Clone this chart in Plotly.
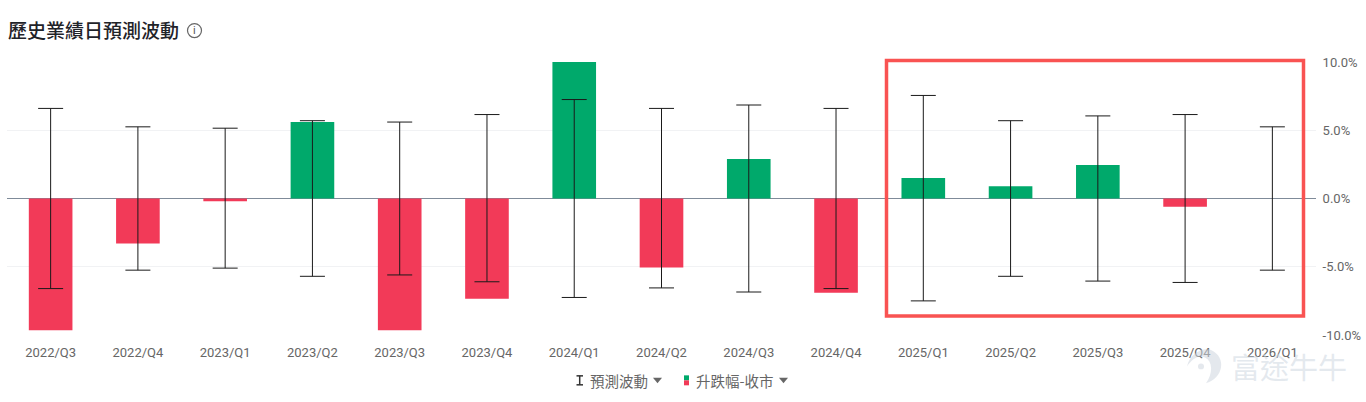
import plotly.graph_objects as go

quarters = ["2022/Q3", "2022/Q4", "2023/Q1", "2023/Q2", "2023/Q3", "2023/Q4", "2024/Q1", "2024/Q2",
            "2024/Q3", "2024/Q4", "2025/Q1", "2025/Q2", "2025/Q3", "2025/Q4", "2026/Q1"]
close_change = [-9.65, -3.3, -0.2, 5.6, -9.65, -7.35, 10.0, -5.05, 2.9, -6.9, 1.5, 0.9, 2.45, -0.6, None]
implied_up = [6.6, 5.25, 5.15, 5.7, 5.6, 6.15, 7.25, 6.6, 6.85, 6.6, 7.55, 5.7, 6.05, 6.15, 5.25]
implied_down = [6.6, 5.25, 5.1, 5.7, 5.6, 6.1, 7.25, 6.55, 6.85, 6.6, 7.5, 5.7, 6.05, 6.15, 5.25]
y_ticks = [-10, -5, 0, 5, 10]
y_tick_labels = ["-10.0%", "-5.0%", "0.0%", "5.0%", "10.0%"]

GREEN = "#00a96b"
RED = "#f23a58"
W, H = 1366, 402
LEFT, RIGHT, TOP, BOTTOM = 7, 1316, 61.5, 335.5
FONT = "Roboto, 'Noto Sans CJK TC', sans-serif"
CJK = "'Noto Sans CJK TC', sans-serif"
MARK = "rgba(205,214,223,0.55)"


# paper coordinates run across the plot area, so page pixels are converted from its edges
def px(x):
    return (x - LEFT) / (RIGHT - LEFT)


def py(y):
    return (BOTTOM - y) / (BOTTOM - TOP)


def label(text, x, y, size=12, color="#666666", anchor="left", family=FONT, weight="normal"):
    return dict(text=text, x=px(x), y=py(y), xref="paper", yref="paper", xanchor=anchor, yanchor="middle",
                showarrow=False, borderpad=0, font=dict(size=size, color=color, family=family, weight=weight))


def box(x0, y0, x1, y1, **kw):
    return dict(type="rect", xref="paper", yref="paper", x0=px(x0), x1=px(x1), y0=py(y1), y1=py(y0), **kw)


def segment(x0, y0, x1, y1, color="#333333", width=1.5):
    return dict(type="line", xref="paper", yref="paper", x0=px(x0), x1=px(x1), y0=py(y0), y1=py(y1),
                line=dict(color=color, width=width))


def triangle(x, y):
    return dict(type="path", xref="paper", yref="paper",
                path=f"M {px(x)} {py(y)} L {px(x + 9)} {py(y)} L {px(x + 4.5)} {py(y + 5.5)} Z",
                fillcolor="#666666", line_width=0)


fig = go.Figure()
fig.add_bar(
    x=quarters, y=close_change, width=0.5,
    marker=dict(color=[GREEN if (v or 0) >= 0 else RED for v in close_change], line_width=0),
    showlegend=False, hoverinfo="x+y",
)
fig.add_scatter(
    x=quarters, y=[0] * len(quarters), mode="markers", marker=dict(size=1, opacity=0),
    error_y=dict(type="data", symmetric=False, array=implied_up, arrayminus=implied_down,
                 color="#1a1a1a", thickness=1, width=12.5),
    showlegend=False, hoverinfo="skip",
)

annotations = [
    label("歷史業績日預測波動", 7, 29, size=19, color="#1f2329", family=CJK, weight=500),
    label("i", 194.5, 30, size=11, color="#555555", anchor="center"),
    label("預測波動", 588.5, 381.5, size=14.5, color="#666666", family=CJK),
    label("升跌幅-收市", 694.5, 381.5, size=14.5, color="#666666", family=CJK),
    label("富途牛牛", 1230, 367, size=29, color=MARK, family=CJK),
]

shapes = [
    dict(type="circle", xref="paper", yref="paper", x0=px(187.5), x1=px(201.5), y0=py(37), y1=py(23),
         line=dict(color="#666666", width=1.2)),
    # highlight frame around the latest quarters
    box(886.5, 60, 1303.5, 316.5, line=dict(color="#f95352", width=3.5), fillcolor="rgba(0,0,0,0)"),
    # legend glyph for the error bars
    segment(576.5, 376.5, 583, 376.5),
    segment(579.7, 376.5, 579.7, 385.5),
    segment(576.5, 385.5, 583, 385.5),
    # legend swatch
    box(684, 376, 689, 381, fillcolor=GREEN, line_width=0),
    box(684, 381, 689, 386, fillcolor=RED, line_width=0),
    # legend dropdown carets
    triangle(653, 378.5),
    triangle(779, 378.5),
    # watermark logo
    dict(type="path", xref="paper", yref="paper",
         path=(f"M {px(1187)} {py(367)} C {px(1190)} {py(353)}, {px(1205)} {py(347)}, {px(1212)} {py(351)} "
               f"C {px(1226)} {py(358)}, {px(1224)} {py(378)}, {px(1206)} {py(384)} "
               f"C {px(1213)} {py(374)}, {px(1213)} {py(362)}, {px(1205)} {py(358)} "
               f"C {px(1198)} {py(355)}, {px(1192)} {py(360)}, {px(1187)} {py(367)} Z"),
         fillcolor=MARK, line_width=0),
    dict(type="circle", xref="paper", yref="paper", x0=px(1198), x1=px(1204), y0=py(370), y1=py(364),
         fillcolor=MARK, line_width=0),
]

fig.update_layout(
    width=W, height=H, autosize=False,
    margin=dict(l=LEFT, r=W - RIGHT, t=TOP, b=H - BOTTOM, pad=0, autoexpand=False),
    paper_bgcolor="white", plot_bgcolor="white",
    font=dict(family=FONT, size=13, color="#666666"),
    bargap=0.5, showlegend=False,
    annotations=annotations, shapes=shapes,
    xaxis=dict(type="category", categoryorder="array", categoryarray=quarters, range=[-0.5, 14.5],
               showgrid=False, zeroline=False, showline=False, automargin=False,
               ticks="outside", ticklen=5, tickcolor="rgba(0,0,0,0)",
               tickfont=dict(size=13, color="#666666"), fixedrange=True),
    yaxis=dict(side="right", range=[-10, 10], tickmode="array", tickvals=y_ticks, ticktext=y_tick_labels,
               showgrid=True, gridcolor="#f1f2f4", gridwidth=1, automargin=False,
               zeroline=True, zerolinecolor="#7f8b99", zerolinewidth=1, showline=False,
               ticks="outside", ticklen=3, tickcolor="rgba(0,0,0,0)",
               tickfont=dict(size=13, color="#666666"), fixedrange=True),
)

fig.write_html("out.html", config={"displayModeBar": False})
